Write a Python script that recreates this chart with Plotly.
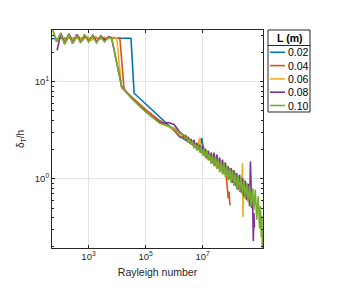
import plotly.graph_objects as go

# ---------------- data ----------------
# log10 of Rayleigh number, and delta_T / h
L_labels = ["0.02", "0.04", "0.06", "0.08", "0.10"]
colors = ["#0072BD", "#D95319", "#EDB120", "#7E2F8E", "#77AC30"]

logra_002 = [1.72, 2.2, 2.8, 3.4, 4.0, 4.49, 4.60, 5.0, 5.5, 5.8, 6.0, 6.2, 6.3, 6.4,
             6.5, 6.6, 6.7, 6.8, 6.9, 6.97, 7.0, 7.05]
delta_002 = [27.5, 27.9, 27.9, 27.9, 27.9, 27.9, 7.59, 5.89, 4.27, 3.55, 3.16, 2.69, 2.63, 2.51,
             2.40, 2.34, 2.24, 2.14, 2.09, 2.63, 2.29, 2.00]

logra_004 = [1.85, 2.0, 2.15, 2.3, 2.45, 2.6, 2.75, 2.9, 3.05, 3.2, 3.35, 3.5, 3.65, 3.8, 3.95,
             4.10, 4.25, 4.5, 5.0, 5.5, 5.8, 6.0, 6.2,
             6.30, 6.35, 6.40, 6.45, 6.50, 6.55, 6.60, 6.65, 6.70, 6.75, 6.80, 6.85, 6.90, 6.95,
             7.00, 7.05, 7.10, 7.15, 7.20, 7.25, 7.30, 7.35, 7.40, 7.45, 7.50, 7.55, 7.60, 7.65,
             7.70, 7.75, 7.80, 7.84, 7.87, 7.90, 7.93, 7.96]
delta_004 = [26.0, 28.5, 27.0, 28.3, 27.3, 28.2, 27.5, 28.4, 27.6, 28.3, 27.7, 28.2, 27.8, 28.3, 28.0,
             28.0, 8.2, 7.0, 5.19, 3.98, 3.51, 3.16, 2.75,
             2.69, 2.63, 2.57, 2.51, 2.45, 2.34, 2.40, 2.24, 2.29, 2.09, 2.19, 2.00, 2.09, 1.86,
             2.00, 1.74, 1.91, 1.62, 1.78, 1.55, 1.70, 1.45, 1.62, 1.35, 1.51, 1.29, 1.45, 1.20,
             1.35, 1.12, 1.26, 1.00, 0.794, 0.631, 0.741, 0.537]

logra_006 = [1.75, 1.9, 2.05, 2.2, 2.35, 2.5, 2.65, 2.8, 2.95, 3.1, 3.25, 3.4, 3.55, 3.7, 3.85,
             3.99, 4.16, 4.5, 5.0, 5.5, 5.8, 6.0, 6.2,
             6.30, 6.35, 6.40, 6.45, 6.50, 6.55, 6.60, 6.65, 6.70, 6.75, 6.80, 6.85, 6.90, 6.95,
             7.00, 7.05, 7.10, 7.15, 7.20, 7.25, 7.30, 7.35, 7.40, 7.45, 7.50, 7.55, 7.60, 7.65,
             7.70, 7.75, 7.80, 7.85, 7.90, 7.95, 8.00, 8.05, 8.10, 8.15, 8.20, 8.25, 8.30, 8.35,
             8.38, 8.40, 8.42, 8.44, 8.47]
delta_006 = [33.0, 26.0, 30.0, 25.5, 29.5, 26.0, 29.5, 26.5, 29.0, 26.5, 29.0, 27.0, 28.8, 27.5, 28.5,
             28.2, 8.55, 6.84, 5.01, 3.80, 3.47, 3.27, 2.92,
             2.79, 2.75, 2.63, 2.69, 2.45, 2.57, 2.34, 2.45, 2.19, 2.34, 2.04, 2.29, 2.63, 1.95,
             2.09, 1.78, 2.00, 1.66, 1.86, 1.58, 1.78, 1.48, 1.66, 1.38, 1.58, 1.29, 1.51, 1.20,
             1.45, 1.12, 1.38, 1.07, 1.32, 1.00, 1.23, 0.933, 1.15, 0.851, 1.07, 0.794, 1.00, 0.741,
             0.955, 1.45, 0.407, 0.794, 0.661]

logra_008 = [1.90, 2.03, 2.17, 2.31, 2.45, 2.59, 2.73, 2.87, 3.01, 3.15, 3.29, 3.43, 3.57, 3.71,
             3.81, 4.16, 4.5, 5.0, 5.5, 5.65, 5.8, 5.9, 6.0, 6.1, 6.2,
             6.30, 6.35, 6.40, 6.45, 6.50, 6.55, 6.60, 6.65, 6.70, 6.75, 6.80, 6.85, 6.90, 6.95,
             7.00, 7.05, 7.10, 7.15, 7.20, 7.25, 7.30, 7.35, 7.40, 7.45, 7.50, 7.55, 7.60, 7.65,
             7.70, 7.75, 7.80, 7.85, 7.90, 7.95, 8.00, 8.05, 8.10, 8.15, 8.20, 8.25, 8.30, 8.35,
             8.40, 8.45, 8.50, 8.55, 8.60, 8.65, 8.68, 8.72, 8.75, 8.78, 8.80, 8.82]
delta_008 = [21.0, 31.5, 24.5, 31.0, 25.0, 30.5, 25.5, 30.0, 26.0, 30.0, 25.5, 29.5, 26.5, 29.0,
             28.0, 9.0, 6.84, 4.95, 3.80, 3.72, 3.80, 3.72, 3.63, 3.31, 3.02,
             2.88, 2.69, 2.82, 2.51, 2.69, 2.40, 2.57, 2.29, 2.51, 2.14, 2.34, 2.00, 2.24, 1.91,
             2.19, 1.78, 2.04, 1.66, 1.95, 1.58, 1.86, 1.48, 1.86, 1.41, 1.78, 1.32, 1.66, 1.26,
             1.58, 1.17, 1.48, 1.10, 1.35, 1.00, 1.29, 0.912, 1.23, 0.851, 1.15, 0.776, 1.10, 0.724,
             1.02, 0.661, 0.955, 0.603, 0.891, 0.525, 1.51, 0.501, 0.794, 0.229, 0.447, 0.316]

logra_010 = [1.75, 1.88, 2.02, 2.16, 2.30, 2.44, 2.58, 2.72, 2.86, 3.00, 3.14, 3.28, 3.42, 3.56,
             3.70, 3.82, 4.16, 4.5, 5.0, 5.5, 5.8, 6.0, 6.2,
             6.30, 6.35, 6.40, 6.45, 6.50, 6.55, 6.60, 6.65, 6.70, 6.75, 6.80, 6.85, 6.90, 6.95,
             7.00, 7.05, 7.10, 7.15, 7.20, 7.25, 7.30, 7.35, 7.40, 7.45, 7.50, 7.55, 7.60, 7.65,
             7.70, 7.75, 7.80, 7.85, 7.90, 7.95, 8.00, 8.05, 8.10, 8.15, 8.20, 8.25, 8.30, 8.35,
             8.40, 8.45, 8.50, 8.55, 8.60, 8.65, 8.70, 8.75, 8.80, 8.85, 8.90, 8.95, 9.00, 9.03,
             9.06, 9.08, 9.10]
delta_010 = [34.0, 25.5, 31.5, 24.0, 30.5, 24.5, 30.0, 25.0, 30.5, 25.5, 29.5, 25.0, 29.0, 25.5,
             28.5, 27.5, 8.9, 6.76, 4.90, 3.72, 3.47, 3.31, 2.95,
             2.82, 2.80, 2.60, 2.68, 2.37, 2.59, 2.24, 2.44, 2.07, 2.31, 1.95, 2.24, 1.86, 2.14,
             1.74, 2.03, 1.64, 1.96, 1.55, 1.85, 1.43, 1.75, 1.35, 1.69, 1.27, 1.60, 1.17, 1.51,
             1.11, 1.46, 1.05, 1.37, 0.966, 1.30, 0.912, 1.24, 0.851, 1.16, 0.776, 1.09, 0.733, 1.05,
             0.692, 0.982, 0.624, 0.906, 0.575, 0.855, 0.519, 0.789, 0.479, 0.776, 0.380, 0.661, 0.309, 0.525,
             0.251, 0.417, 0.174]

series_logra = [logra_002, logra_004, logra_006, logra_008, logra_010]
series_delta = [delta_002, delta_004, delta_006, delta_008, delta_010]

x_tickvals = [1e3, 1e5, 1e7]
x_ticktext = ["10<sup>3</sup>", "10<sup>5</sup>", "10<sup>7</sup>"]
y_tickvals = [1, 10]
y_ticktext = ["10<sup>0</sup>", "10<sup>1</sup>"]

# ---------------- figure ----------------
FONT = "Liberation Sans, Arial, Helvetica, sans-serif"
AX = "#262626"
W, H = 347, 291
OFF = 8  # page offset of the figure inside the browser window
# target plot area in window pixels: x 52..263, y 30..248
ML, MT = 52 - OFF, 30 - OFF
MR, MB = W - (263 - OFF), H - (248 - OFF)
PW, PH = W - ML - MR, H - MT - MB


def px_x(p):  # window pixel -> paper x
    return (p - OFF - ML) / PW


def px_y(p):  # window pixel -> paper y
    return (H - MB - (p - OFF)) / PH


fig = go.Figure()
for lab, col, lx, dy in zip(L_labels, colors, series_logra, series_delta):
    fig.add_trace(go.Scatter(
        x=[10 ** v for v in lx], y=dy, mode="lines", name=lab,
        line=dict(color=col, width=1.6), showlegend=False,
    ))

minor_y = [m * 10 ** e for e in (-1, 0, 1) for m in range(2, 10) if 0.19 < m * 10 ** e < 34]

fig.update_layout(
    width=W, height=H,
    margin=dict(l=ML, r=MR, t=MT, b=MB),
    paper_bgcolor="white", plot_bgcolor="white",
    font=dict(family=FONT, size=10, color=AX),
    xaxis=dict(
        type="log", range=[1.72, 9.12],
        tickmode="array", tickvals=x_tickvals, ticktext=x_ticktext,
        ticks="inside", ticklen=3, tickcolor=AX, tickwidth=1,
        showline=True, linecolor=AX, linewidth=1, mirror="ticks",
        showgrid=True, gridcolor="#e3e3e3", gridwidth=1, zeroline=False,
        tickfont=dict(family=FONT, size=9.5, color=AX),
        title=dict(text="Rayleigh number", font=dict(family=FONT, size=10.5, color=AX), standoff=7),
    ),
    yaxis=dict(
        type="log", range=[-0.71, 1.53],
        tickmode="array", tickvals=y_tickvals, ticktext=y_ticktext,
        ticks="inside", ticklen=3, tickcolor=AX, tickwidth=1,
        showline=True, linecolor=AX, linewidth=1, mirror="ticks",
        showgrid=True, gridcolor="#e3e3e3", gridwidth=1, zeroline=False,
        tickfont=dict(family=FONT, size=9.5, color=AX),
        minor=dict(tickmode="array", tickvals=minor_y, ticks="inside", ticklen=2,
                   tickcolor=AX, showgrid=False),
        title=dict(text="δ<sub>T</sub>/h", font=dict(family=FONT, size=10, color=AX), standoff=8),
    ),
)

# ---------------- legend (drawn as box + samples + text) ----------------
LX0, LX1, LY0, LY1, LSEP = 268, 310, 30, 112, 45.5
fig.add_shape(type="rect", xref="paper", yref="paper",
              x0=px_x(LX0), x1=px_x(LX1), y0=px_y(LY1), y1=px_y(LY0),
              line=dict(color=AX, width=1), fillcolor="white", layer="above")
fig.add_shape(type="line", xref="paper", yref="paper",
              x0=px_x(LX0), x1=px_x(LX1), y0=px_y(LSEP), y1=px_y(LSEP),
              line=dict(color=AX, width=1), layer="above")
fig.add_annotation(xref="paper", yref="paper", x=px_x((LX0 + LX1) / 2), y=px_y(38),
                   text="<b>L (m)</b>", showarrow=False, xanchor="center", yanchor="middle",
                   font=dict(family=FONT, size=10.5, color="black"))
for i, (lab, col) in enumerate(zip(L_labels, colors)):
    yy = 52.3 + i * 13.3
    fig.add_shape(type="line", xref="paper", yref="paper",
                  x0=px_x(270), x1=px_x(285), y0=px_y(yy), y1=px_y(yy),
                  line=dict(color=col, width=1.6), layer="above")
    fig.add_annotation(xref="paper", yref="paper", x=px_x(285.5), y=px_y(yy),
                       text=lab, showarrow=False, xanchor="left", yanchor="middle",
                       font=dict(family=FONT, size=10.5, color="black"))

fig.write_html("out.html")
